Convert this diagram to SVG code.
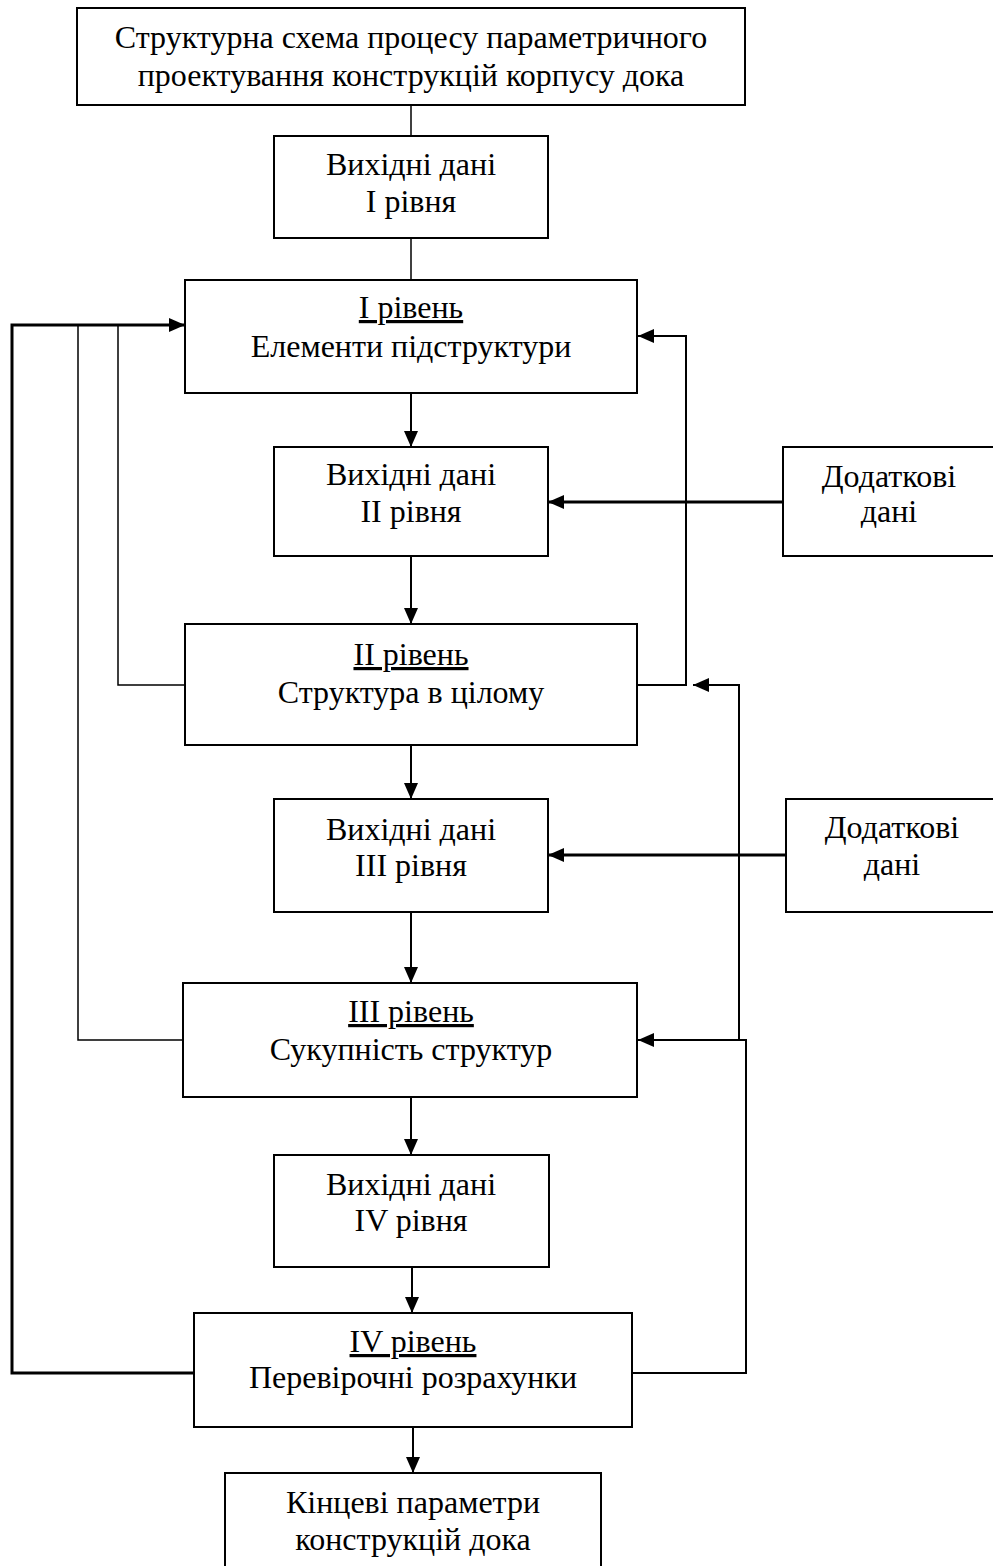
<svg xmlns="http://www.w3.org/2000/svg" width="993" height="1566" viewBox="0 0 993 1566">
  <style>
    .box { fill: #fff; stroke: #000; stroke-width: 2; }
    .lbl { font-family: "Liberation Serif", "Times New Roman", serif; font-size: 32px; fill: #000; text-anchor: middle; }
    .ul { text-decoration: underline; }
    .wire { fill: none; stroke: #000; stroke-width: 2; }
    .thin { stroke-width: 1.5; }
    .thick { stroke-width: 3; }
  </style>
  <defs>
    <marker id="arrow" viewBox="0 0 16 14" refX="16" refY="7" markerWidth="16" markerHeight="14" markerUnits="userSpaceOnUse" orient="auto">
      <path d="M0,0 L16,7 L0,14 Z" fill="#000"/>
    </marker>
  </defs>

  <!-- connectors -->
  <g id="connectors">
    <line class="wire thin" x1="411" y1="105" x2="411" y2="136"/>
    <line class="wire thin" x1="411" y1="238" x2="411" y2="280"/>
    <line class="wire" x1="411" y1="393" x2="411" y2="447" marker-end="url(#arrow)"/>
    <line class="wire" x1="411" y1="556" x2="411" y2="624" marker-end="url(#arrow)"/>
    <line class="wire" x1="411" y1="745" x2="411" y2="799" marker-end="url(#arrow)"/>
    <line class="wire" x1="411" y1="912" x2="411" y2="983" marker-end="url(#arrow)"/>
    <line class="wire" x1="411" y1="1097" x2="411" y2="1155" marker-end="url(#arrow)"/>
    <line class="wire" x1="412" y1="1267" x2="412" y2="1313" marker-end="url(#arrow)"/>
    <line class="wire" x1="413" y1="1427" x2="413" y2="1473" marker-end="url(#arrow)"/>
    <!-- additional data inputs -->
    <line class="wire thick" x1="783" y1="502" x2="548" y2="502" marker-end="url(#arrow)"/>
    <line class="wire thick" x1="786" y1="855" x2="548" y2="855" marker-end="url(#arrow)"/>
    <!-- left feedback loops -->
    <polyline class="wire thick" points="194,1373 12,1373 12,325 185,325" marker-end="url(#arrow)"/>
    <polyline class="wire thin" points="183,1040 78,1040 78,325"/>
    <polyline class="wire thin" points="185,685 118,685 118,325"/>
    <!-- right feedback loops -->
    <polyline class="wire" points="637,685 686,685 686,336 638,336" marker-end="url(#arrow)"/>
    <polyline class="wire" points="632,1373 746,1373 746,1040 638,1040" marker-end="url(#arrow)"/>
    <polyline class="wire" points="739,1040 739,685 693,685" marker-end="url(#arrow)"/>
  </g>

  <g id="title">
    <rect class="box" x="77" y="8" width="668" height="97"/>
    <text class="lbl" x="411" y="48">Структурна схема процесу параметричного</text>
    <text class="lbl" x="411" y="86">проектування конструкцій корпусу дока</text>
  </g>

  <g id="input-1">
    <rect class="box" x="274" y="136" width="274" height="102"/>
    <text class="lbl" x="411" y="175">Вихідні дані</text>
    <text class="lbl" x="411" y="212">І рівня</text>
  </g>

  <g id="level-1">
    <rect class="box" x="185" y="280" width="452" height="113"/>
    <text class="lbl ul" x="411" y="318">І рівень</text>
    <text class="lbl" x="411" y="357">Елементи підструктури</text>
  </g>

  <g id="input-2">
    <rect class="box" x="274" y="447" width="274" height="109"/>
    <text class="lbl" x="411" y="485">Вихідні дані</text>
    <text class="lbl" x="411" y="522">ІІ рівня</text>
  </g>

  <g id="extra-1">
    <rect class="box" x="783" y="447" width="220" height="109"/>
    <text class="lbl" x="889" y="487">Додаткові</text>
    <text class="lbl" x="889" y="522">дані</text>
  </g>

  <g id="level-2">
    <rect class="box" x="185" y="624" width="452" height="121"/>
    <text class="lbl ul" x="411" y="665">ІІ рівень</text>
    <text class="lbl" x="411" y="703">Структура в цілому</text>
  </g>

  <g id="input-3">
    <rect class="box" x="274" y="799" width="274" height="113"/>
    <text class="lbl" x="411" y="840">Вихідні дані</text>
    <text class="lbl" x="411" y="876">ІІІ рівня</text>
  </g>

  <g id="extra-2">
    <rect class="box" x="786" y="799" width="220" height="113"/>
    <text class="lbl" x="892" y="838">Додаткові</text>
    <text class="lbl" x="892" y="875">дані</text>
  </g>

  <g id="level-3">
    <rect class="box" x="183" y="983" width="454" height="114"/>
    <text class="lbl ul" x="411" y="1022">ІІІ рівень</text>
    <text class="lbl" x="411" y="1060">Сукупність структур</text>
  </g>

  <g id="input-4">
    <rect class="box" x="274" y="1155" width="275" height="112"/>
    <text class="lbl" x="411" y="1195">Вихідні дані</text>
    <text class="lbl" x="411" y="1231">ІV рівня</text>
  </g>

  <g id="level-4">
    <rect class="box" x="194" y="1313" width="438" height="114"/>
    <text class="lbl ul" x="413" y="1352">ІV рівень</text>
    <text class="lbl" x="413" y="1388">Перевірочні розрахунки</text>
  </g>

  <g id="result">
    <rect class="box" x="225" y="1473" width="376" height="110"/>
    <text class="lbl" x="413" y="1513">Кінцеві параметри</text>
    <text class="lbl" x="413" y="1550">конструкцій дока</text>
  </g>
</svg>
